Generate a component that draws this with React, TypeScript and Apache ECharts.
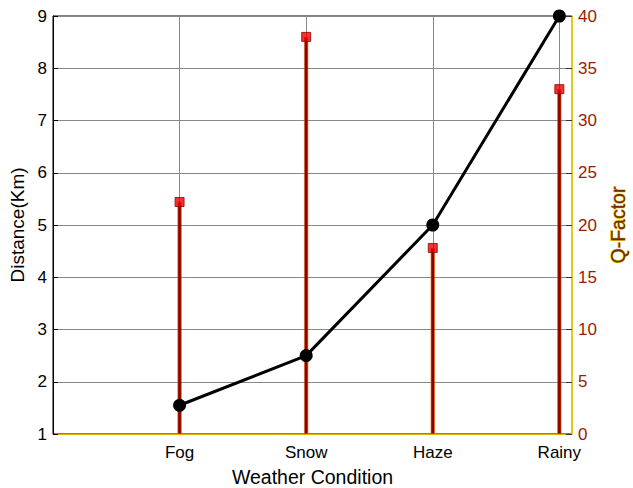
import React, { useEffect, useRef } from "react";
import * as echarts from "echarts";

const categories = ["Fog", "Snow", "Haze", "Rainy"];
const positions = [1, 2, 3, 4];
const distance = [1.55, 2.5, 5, 9];
const qFactor = [22.2, 38.0, 17.8, 33.0];

export default function App() {
  const ref = useRef<HTMLDivElement>(null);
  useEffect(() => {
    if (!ref.current) return;
    const chart = echarts.init(ref.current, undefined, { renderer: "svg" });
    const font = "Liberation Sans, Arial, sans-serif";
    chart.setOption({
      animation: false,
      backgroundColor: "#ffffff",
      grid: {
        left: 53,
        right: 61,
        top: 16,
        bottom: 54,
        outerBoundsMode: "none",
        containLabel: false,
        show: true,
        borderColor: "#000",
        borderWidth: 1,
        backgroundColor: "transparent",
      },
      xAxis: {
        type: "value",
        min: 0,
        max: 4.1,
        interval: 1,
        name: "Weather Condition",
        nameLocation: "middle",
        nameGap: 33,
        nameTextStyle: { fontFamily: font, fontSize: 19.5, color: "#000" },
        axisLine: { show: true, lineStyle: { color: "#e8b000", width: 1 } },
        axisTick: { show: false },
        axisLabel: {
          fontFamily: font,
          fontSize: 17,
          color: "#000",
          margin: 10,
          formatter: (v: number) => {
            const i = positions.indexOf(Math.round(v * 1000) / 1000);
            return i >= 0 ? categories[i] : "";
          },
        },
        splitLine: { show: true, lineStyle: { color: "#888", width: 1 } },
      },
      yAxis: [
        {
          type: "value",
          min: 1,
          max: 9,
          interval: 1,
          name: "Distance(Km)",
          nameLocation: "middle",
          nameGap: 19,
          nameTextStyle: { fontFamily: font, fontSize: 19, color: "#000" },
          axisLine: { show: true, lineStyle: { color: "#000", width: 1 } },
          axisTick: { show: true, inside: true, length: 5, lineStyle: { color: "#000" } },
          axisLabel: { fontFamily: font, fontSize: 17, color: "#000", margin: 6 },
          splitLine: { show: true, lineStyle: { color: "#888", width: 1 } },
        },
        {
          type: "value",
          min: 0,
          max: 40,
          interval: 5,
          position: "right",
          name: "Q-Factor",
          nameLocation: "middle",
          nameGap: 35,
          nameRotate: 90,
          nameTextStyle: {
            fontFamily: font,
            fontSize: 19.5,
            color: "#6b3000",
            textBorderColor: "#f5b800",
            textBorderWidth: 1,
          },
          axisLine: { show: true, lineStyle: { color: "#ffe000", width: 1.5 } },
          axisTick: { show: true, inside: true, length: 6, lineStyle: { color: "#333" } },
          axisLabel: { fontFamily: font, fontSize: 17, color: "#9a1c00", margin: 6 },
          splitLine: { show: false },
        },
      ],
      series: [
        {
          type: "bar",
          yAxisIndex: 1,
          barWidth: 4,
          data: positions.map((p, i) => [p, qFactor[i]]),
          itemStyle: { color: "#8b0000", borderColor: "#e06000", borderWidth: 0.6 },
          z: 3,
        },
        {
          type: "scatter",
          yAxisIndex: 1,
          symbol: "rect",
          symbolSize: 9,
          data: positions.map((p, i) => [p, qFactor[i]]),
          itemStyle: { color: "#ee0000", borderColor: "#900000", borderWidth: 1 },
          z: 4,
        },
        {
          type: "line",
          yAxisIndex: 0,
          data: positions.map((p, i) => [p, distance[i]]),
          symbol: "circle",
          symbolSize: 13,
          lineStyle: { color: "#000", width: 3 },
          itemStyle: { color: "#000" },
          z: 5,
        },
      ],
    });
    return () => chart.dispose();
  }, []);
  return (
    <div
      ref={ref}
      style={{ position: "fixed", left: 0, top: 0, width: 633, height: 488 }}
    />
  );
}
